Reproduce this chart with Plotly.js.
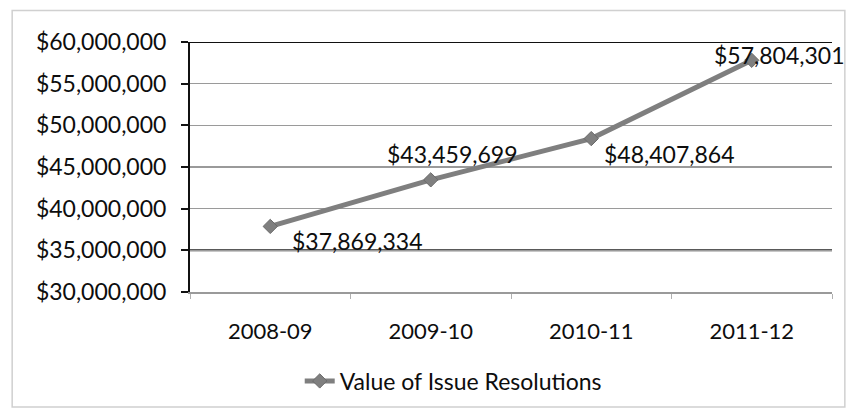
<!DOCTYPE html>
<html>
<head>
<meta charset="utf-8">
<script src="https://cdn.plot.ly/plotly-3.0.1.min.js"></script>
<style>
  html, body { margin: 0; padding: 0; background: #fff; }
  #chart { width: 849px; height: 414px; }
</style>
</head>
<body>
<div id="chart"></div>
<script>
const categories = ["2008-09", "2009-10", "2010-11", "2011-12"];
const values = [37869334, 43459699, 48407864, 57804301];
const valueLabels = ["$37,869,334", "$43,459,699", "$48,407,864", "$57,804,301"];
const seriesName = "Value of Issue Resolutions";
const yTicks = [30000000, 35000000, 40000000, 45000000, 50000000, 55000000, 60000000];
const yTickLabels = ["$30,000,000", "$35,000,000", "$40,000,000", "$45,000,000", "$50,000,000", "$55,000,000", "$60,000,000"];

const labelPlacement = [
  {xanchor: "left", xshift: 20, yshift: -15},
  {xanchor: "center", xshift: 22, yshift: 26},
  {xanchor: "left", xshift: 11, yshift: -15},
  {xanchor: "left", xshift: -40, yshift: 5}
];

const fontFam = "Lato, 'Open Sans', sans-serif";
const txtColor = "#0d0d0d";
const lineColor = "#7f7f7f";

const trace = {
  x: categories,
  y: values,
  type: "scatter",
  mode: "lines+markers",
  name: seriesName,
  line: {color: lineColor, width: 5},
  marker: {symbol: "diamond", size: 11, color: lineColor, line: {color: "#6a6a6a", width: 1}},
  cliponaxis: false
};

const annotations = categories.map((c, i) => ({
  x: c, y: values[i], xref: "x", yref: "y",
  text: valueLabels[i], showarrow: false,
  xanchor: labelPlacement[i].xanchor, yanchor: "middle",
  xshift: labelPlacement[i].xshift, yshift: labelPlacement[i].yshift,
  font: {family: fontFam, size: 23, color: txtColor}
}));

const layout = {
  width: 849, height: 414,
  margin: {l: 190, r: 17, t: 42, b: 119},
  paper_bgcolor: "#ffffff",
  plot_bgcolor: "#ffffff",
  showlegend: true,
  legend: {
    orientation: "h", x: 0.41, xanchor: "center", y: -0.27, yanchor: "top",
    font: {family: fontFam, size: 23, color: txtColor}
  },
  xaxis: {
    type: "category",
    range: [-0.5, categories.length - 0.5],
    showgrid: false, zeroline: false,
    showline: true, linecolor: "#9a9a9a", linewidth: 1.5,
    ticks: "outside", tickson: "boundaries", ticklen: 5, tickcolor: "#b0b0b0",
    ticklabelstandoff: 19,
    tickfont: {family: fontFam, size: 22, color: txtColor},
    fixedrange: true
  },
  yaxis: {
    range: [30000000, 60000000],
    tickvals: yTicks, ticktext: yTickLabels,
    showgrid: true, gridcolor: "#9a9a9a", gridwidth: 1.5,
    zeroline: false,
    showline: true, linecolor: "#111111", linewidth: 2,
    ticks: "outside", ticklen: 7, tickcolor: "#111111", tickwidth: 2,
    ticklabelstandoff: 10,
    tickfont: {family: fontFam, size: 23, color: txtColor},
    fixedrange: true
  },
  annotations: annotations,
  shapes: [
    {type: "rect", xref: "paper", yref: "paper",
     x0: -0.277, x1: 1.02, y0: -0.46, y1: 1.126,
     line: {color: "#d0d0d0", width: 1.5}, fillcolor: "rgba(0,0,0,0)", layer: "below"},
    {type: "line", xref: "paper", yref: "y", x0: 0, x1: 1, y0: yTicks[6], y1: yTicks[6],
     line: {color: "#111111", width: 2}, layer: "below"},
    {type: "line", xref: "paper", yref: "y", x0: 0, x1: 1, y0: yTicks[1], y1: yTicks[1],
     line: {color: "#222222", width: 2}, layer: "below"}
  ]
};

Plotly.newPlot("chart", [trace], layout, {displayModeBar: false, staticPlot: true});
</script>
</body>
</html>
